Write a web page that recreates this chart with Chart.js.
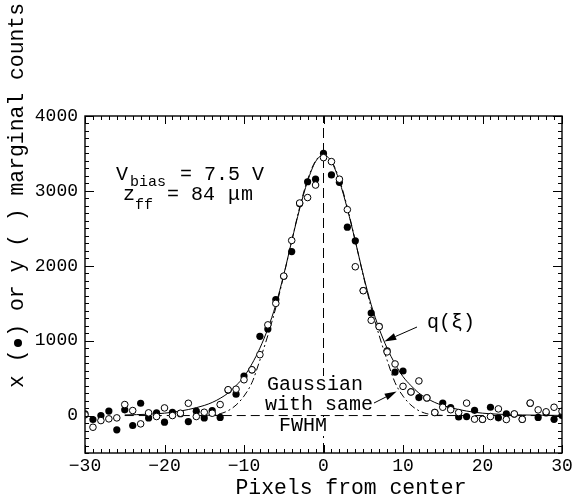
<!DOCTYPE html>
<html>
<head>
<meta charset="utf-8">
<script src="https://cdn.jsdelivr.net/npm/chart.js@4.4.1/dist/chart.umd.min.js"></script>
<style>
  html, body { margin: 0; padding: 0; background: #fff; }
</style>
</head>
<body>
<canvas id="myChart" width="575" height="504"></canvas>
<script>
// =========================================================
// Marginal counts vs pixel offset
const pixelX = [-30, -29, -28, -27, -26, -25, -24, -23, -22, -21, -20, -19, -18, -17, -16, -15,
  -14, -13, -12, -11, -10, -9, -8, -7, -6, -5, -4, -3, -2, -1, 0, 1, 2, 3, 4, 5, 6, 7, 8, 9,
  10, 11, 12, 13, 14, 15, 16, 17, 18, 19, 20, 21, 22, 23, 24, 25, 26, 27, 28, 29, 30];

// x marginal (filled circles)
const xCounts = [22, -53, 0, 60, -191, 76, -133, 164, -31, 36, -89, 44, 25, -80, 58, -31,
  67, -25, 340, 285, 528, 610, 1058, 1156, 1550, 1860, 2190, 2830, 3122, 3156, 3500, 3213, 3115, 2515, 2333, 1670, 1369, 1190, 865, 580,
  595, 315, 240, 236, 44, 166, 106, -18, -13, 70, -50, 111, -30, 22, 20, -50, 165, -25, 35, -50, 0];

// y marginal (open circles)
const yCounts = [10, -156, -67, -44, -31, 147, 67, -111, 36, -13, 102, 0, 31, 164, -13, 44,
  31, 147, 345, 352, 478, 611, 813, 1211, 1498, 1862, 2338, 2838, 2911, 3078, 3444, 3391, 3156, 2750, 1987, 1667, 1272, 1187, 850, 689,
  390, 315, 462, 236, 40, 111, 78, 40, 166, -48, -50, -13, 89, -53, 22, -50, 166, 76, 50, 111, 58];

// q(xi) curve (solid)
const qX = [-25, -22, -20, -18, -16, -15, -14, -13, -12, -11, -10, -9, -8, -7, -6, -5, -4, -3, -2, -1,
  0, 1, 2, 3, 4, 5, 6, 7, 8, 9, 10, 11, 12, 13, 14, 15, 16, 18, 20, 22, 25, 30];
const qValues = [8, 18, 32, 60, 105, 135, 175, 230, 300, 400, 520, 690, 900, 1160, 1480, 1880, 2330, 2760, 3130, 3390,
  3480, 3390, 3130, 2760, 2330, 1880, 1480, 1160, 900, 690, 520, 400, 300, 230, 175, 135, 105, 60, 32, 18, 8, 2];

// Gaussian with same FWHM (dash-dot)
const gaussX = [-15, -14, -13, -12, -11, -10, -9, -8, -7, -6, -5, -4, -3, -2, -1,
  0, 1, 2, 3, 4, 5, 6, 7, 8, 9, 10, 11, 12, 13, 14, 15];
const gaussValues = [2, 8, 25, 65, 140, 260, 440, 740, 1070, 1440, 1870, 2330, 2780, 3150, 3400,
  3480, 3400, 3150, 2780, 2330, 1870, 1440, 1070, 740, 440, 260, 140, 65, 25, 8, 2];

// zero baseline and centre line
const baseX = [-25, 30];
const baseY = [0, 0];
const centerX = [0, 0];
const centerY = [-500, 4000];

// Tick labels
const xTickValues = [-30, -20, -10, 0, 10, 20, 30];
const xTickLabels = ['\u221230', '\u221220', '\u221210', '0', '10', '20', '30'];
const yTickValues = [0, 1000, 2000, 3000, 4000];
const yTickLabels = ['0', '1000', '2000', '3000', '4000'];

// =======================
// Style
// =======================
const monoFont = "'Liberation Mono', 'DejaVu Sans Mono', monospace";
const tickFontSize = 18;
const textFontSize = 20;
const titleFontSize = 21.4;

const toPoints = (xs, ys) => xs.map((v, i) => ({ x: v, y: ys[i] }));

function drawArrow(ctx, x0, y0, x1, y1) {
  const ang = Math.atan2(y1 - y0, x1 - x0);
  const head = 12;
  const half = 3.5;
  ctx.beginPath();
  ctx.moveTo(x0, y0);
  ctx.lineTo(x1 - head * Math.cos(ang), y1 - head * Math.sin(ang));
  ctx.stroke();
  ctx.beginPath();
  ctx.moveTo(x1, y1);
  ctx.lineTo(x1 - head * Math.cos(ang) + half * Math.sin(ang), y1 - head * Math.sin(ang) - half * Math.cos(ang));
  ctx.lineTo(x1 - head * Math.cos(ang) - half * Math.sin(ang), y1 - head * Math.sin(ang) + half * Math.cos(ang));
  ctx.closePath();
  ctx.fill();
}

// frame with inward ticks on all four sides
const framePlugin = {
  id: 'frame',
  afterDatasetsDraw(chart) {
    const { ctx, chartArea: a, scales: { x, y } } = chart;
    ctx.save();
    ctx.strokeStyle = '#000';
    ctx.lineWidth = 1.4;
    ctx.strokeRect(a.left, a.top, a.right - a.left, a.bottom - a.top);
    ctx.lineWidth = 1;
    ctx.beginPath();
    for (let v = x.min; v <= x.max; v += 1) {
      const px = Math.round(x.getPixelForValue(v)) + 0.5;
      const len = v % 10 === 0 ? 8 : 4;
      ctx.moveTo(px, a.bottom); ctx.lineTo(px, a.bottom - len);
      ctx.moveTo(px, a.top); ctx.lineTo(px, a.top + len);
    }
    for (let v = y.min; v <= y.max; v += 100) {
      const py = Math.round(y.getPixelForValue(v)) + 0.5;
      const len = v % 1000 === 0 ? 9 : 4;
      ctx.moveTo(a.left, py); ctx.lineTo(a.left + len, py);
      ctx.moveTo(a.right, py); ctx.lineTo(a.right - len, py);
    }
    ctx.stroke();
    ctx.restore();
  }
};

// labels, arrows and axis titles
const notePlugin = {
  id: 'notes',
  afterDraw(chart) {
    const { ctx, scales: { x, y } } = chart;
    const X = v => x.getPixelForValue(v);
    const Y = v => y.getPixelForValue(v);
    ctx.save();
    ctx.fillStyle = '#000';
    ctx.strokeStyle = '#000';
    ctx.lineWidth = 1;

    // V_bias and z_ff
    ctx.textBaseline = 'alphabetic';
    ctx.textAlign = 'left';
    ctx.font = `${textFontSize}px ${monoFont}`;
    ctx.fillText('V', 116, 180);
    ctx.fillText('= 7.5 V', 180, 180);
    ctx.fillText('z', 123, 200);
    ctx.fillText('= 84', 167, 200);
    ctx.fillText('\u03bc', 228, 200);
    ctx.fillText('m', 241, 200);
    ctx.font = `15px ${monoFont}`;
    ctx.fillText('bias', 130, 186);
    ctx.fillText('ff', 135, 209);

    // Gaussian label on white boxes
    ctx.font = `${textFontSize}px ${monoFont}`;
    ctx.textBaseline = 'middle';
    const lines = [['Gaussian', 267, 385], ['with same', 265, 405], ['FWHM', 279, 426]];
    lines.forEach(([t, lx, ly]) => {
      const w = ctx.measureText(t).width;
      ctx.fillStyle = '#fff';
      ctx.fillRect(lx - 2, ly - 9, w + 4, 19);
      ctx.fillStyle = '#000';
      ctx.fillText(t, lx, ly);
    });
    drawArrow(ctx, 374, 403, X(9.2), Y(320));

    // q(xi) label
    ctx.fillText('q(\u03be)', 427, 323);
    drawArrow(ctx, 417, 327, X(7.65), Y(990));

    // x axis title
    ctx.font = `${titleFontSize}px ${monoFont}`;
    ctx.textAlign = 'center';
    ctx.fillText('Pixels from center', 351, 488);

    // y axis title with filled marker
    const yTitle = 'x ( ) or y ( ) marginal counts';
    ctx.translate(17, 195.5);
    ctx.rotate(-Math.PI / 2);
    ctx.fillText(yTitle, 0, 0);
    const cw = ctx.measureText('x').width;
    const start = -ctx.measureText(yTitle).width / 2;
    ctx.beginPath();
    ctx.arc(start + 3.5 * cw, 1, 4, 0, Math.PI * 2);
    ctx.fill();
    ctx.restore();
  }
};

// =======================
// Chart Configuration
// =======================
const ctx = document.getElementById('myChart').getContext('2d');

new Chart(ctx, {
  type: 'scatter',
  data: {
    datasets: [
      {
        label: 'y marginal',
        data: toPoints(pixelX, yCounts),
        pointStyle: 'circle',
        pointRadius: 3.3,
        pointBackgroundColor: '#fff',
        pointBorderColor: '#000',
        pointBorderWidth: 1,
        clip: 0,
        order: 1
      },
      {
        label: 'x marginal',
        data: toPoints(pixelX, xCounts),
        pointStyle: 'circle',
        pointRadius: 3.6,
        pointBackgroundColor: '#000',
        pointBorderColor: '#000',
        pointBorderWidth: 0,
        clip: 0,
        order: 2
      },
      {
        type: 'line',
        label: 'q(xi)',
        data: toPoints(qX, qValues),
        borderColor: '#000',
        borderWidth: 1,
        pointRadius: 0,
        cubicInterpolationMode: 'monotone',
        fill: false,
        order: 3
      },
      {
        type: 'line',
        label: 'Gaussian',
        data: toPoints(gaussX, gaussValues),
        borderColor: '#000',
        borderWidth: 1,
        borderDash: [7, 3, 2, 3],
        pointRadius: 0,
        cubicInterpolationMode: 'monotone',
        fill: false,
        order: 4
      },
      {
        type: 'line',
        label: 'baseline',
        data: toPoints(baseX, baseY),
        borderColor: '#000',
        borderWidth: 1,
        borderDash: [9, 5],
        pointRadius: 0,
        fill: false,
        order: 5
      },
      {
        type: 'line',
        label: 'center',
        data: toPoints(centerX, centerY),
        borderColor: '#000',
        borderWidth: 1,
        borderDash: [10, 5],
        pointRadius: 0,
        fill: false,
        order: 6
      }
    ]
  },
  options: {
    responsive: false,
    animation: false,
    events: [],
    layout: { padding: { left: 0, right: 13, top: 116, bottom: 0 } },
    plugins: {
      legend: { display: false },
      tooltip: { enabled: false }
    },
    scales: {
      x: {
        type: 'linear',
        min: -30,
        max: 30,
        grid: { display: false, drawTicks: false },
        border: { display: false },
        ticks: {
          autoSkip: false,
          maxRotation: 0,
          padding: 2,
          color: '#000',
          font: { family: monoFont, size: tickFontSize },
          callback: v => {
            const i = xTickValues.indexOf(v);
            return i >= 0 ? xTickLabels[i] : '';
          }
        },
        afterBuildTicks: s => { s.ticks = xTickValues.map(v => ({ value: v })); },
        afterFit: s => { s.height = 51; }
      },
      y: {
        type: 'linear',
        min: -500,
        max: 4000,
        grid: { display: false, drawTicks: false },
        border: { display: false },
        ticks: {
          autoSkip: false,
          padding: 7,
          color: '#000',
          font: { family: monoFont, size: tickFontSize },
          callback: v => {
            const i = yTickValues.indexOf(v);
            return i >= 0 ? yTickLabels[i] : '';
          }
        },
        afterBuildTicks: s => { s.ticks = yTickValues.map(v => ({ value: v })); },
        afterFit: s => { s.width = 85; }
      }
    }
  },
  plugins: [framePlugin, notePlugin]
});
</script>
</body>
</html>
